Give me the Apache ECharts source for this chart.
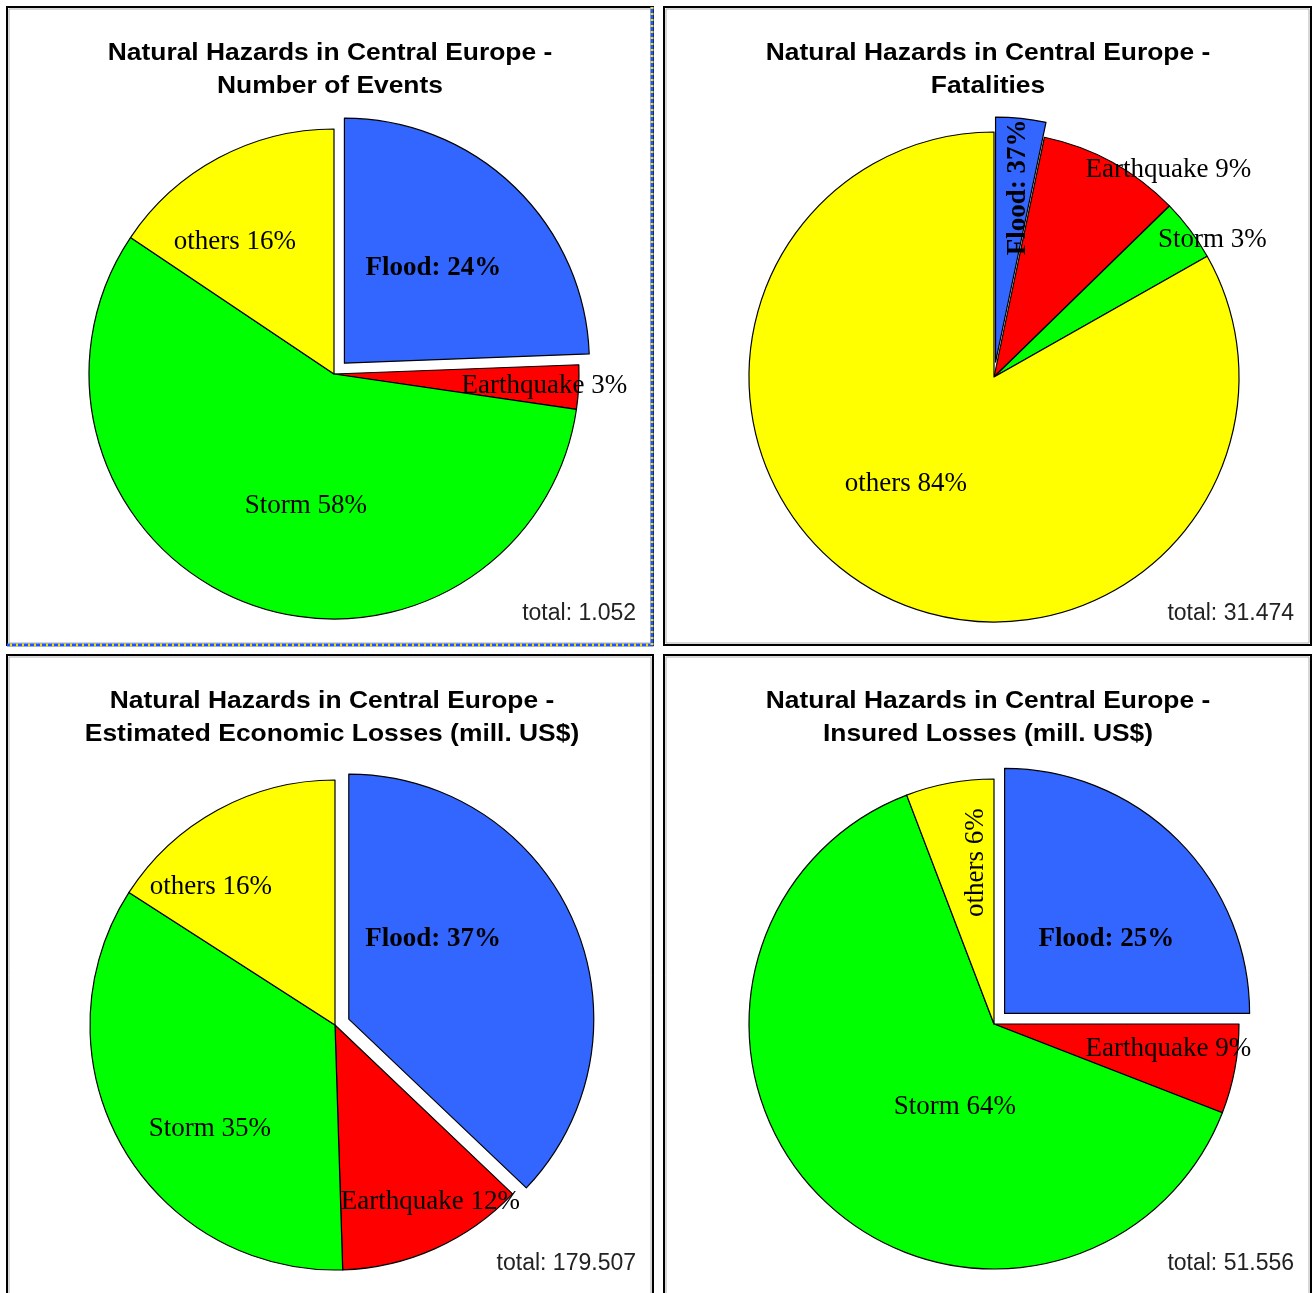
<!DOCTYPE html>
<html>
<head>
<meta charset="utf-8">
<script src="https://cdn.jsdelivr.net/npm/echarts@6/dist/echarts.min.js"></script>
<style>
  html, body { margin: 0; padding: 0; background: #fff; }
  #chart { width: 1312px; height: 1293px; }
</style>
</head>
<body>
<div id="chart"></div>
<script>
// categories, same order in every panel (clockwise from 12 o'clock)
const hazards = ['Flood', 'Earthquake', 'Storm', 'others']

// slice sizes as drawn
const eventsShare = [24.4, 2.9, 57.1, 15.6]
const fatalShare = [3.3, 9.4, 4.1, 83.2]
const econShare = [37.1, 12.4, 34.6, 15.9]
const insuredShare = [25, 5.9, 63.3, 5.8]

// percentages as printed on the labels
const eventsPct = [24, 3, 58, 16]
const fatalPct = [37, 9, 3, 84]
const econPct = [37, 12, 35, 16]
const insuredPct = [25, 9, 64, 6]

const panelTitles = [
  'Natural Hazards in Central Europe -\nNumber of Events',
  'Natural Hazards in Central Europe -\nFatalities',
  'Natural Hazards in Central Europe -\nEstimated Economic Losses (mill. US$)',
  'Natural Hazards in Central Europe -\nInsured Losses (mill. US$)',
]
const totals = ['total: 1.052', 'total: 31.474', 'total: 179.507', 'total: 51.556']

const colors = ['#3366ff', '#ff0000', '#00ff00', '#ffff00']

// layout of the four panels; shift = label nudge from the 'inside' spot
// (for rotated labels the nudge is in the label's own rotated frame)
const panels = [
  { share: eventsShare, pct: eventsPct, box: [7, 7, 646, 638], center: [334, 374], titleX: 330,
    shift: [[2, -5], [85, 5], [17, 15], [-40, -21]], rotate: [0, 0, 0, 0] },
  { share: fatalShare, pct: fatalPct, box: [664, 7, 647, 638], center: [994, 377], titleX: 988,
    shift: [[50, 9], [114, -97], [118, -62], [-25, -2]], rotate: [90, 0, 0, 0] },
  { share: econShare, pct: econPct, box: [7, 655, 646, 660], center: [335, 1025], titleX: 332,
    shift: [[-31, -31], [44, 62], [-16, 42], [-64, -28]], rotate: [0, 0, 0, 0] },
  { share: insuredShare, pct: insuredPct, box: [664, 655, 647, 660], center: [994, 1024], titleX: 988,
    shift: [[13, 14], [51, 2], [50, -6], [38, 5]], rotate: [0, 0, 0, 90] },
]

const chart = echarts.init(document.getElementById('chart'))

const graphics = []
panels.forEach((p, k) => {
  const [x, y, w, h] = p.box
  graphics.push({
    type: 'rect', silent: true, z: 0,
    shape: { x: x, y: y, width: w, height: h },
    style: { fill: '#fff', stroke: '#000', lineWidth: 2 },
  })
  graphics.push({
    type: 'rect', silent: true, z: 0,
    shape: { x: x + 2, y: y + 2, width: w - 4, height: h - 4 },
    style: { fill: null, stroke: '#b0b0b0', lineWidth: 1 },
  })
  graphics.push({
    type: 'text', silent: true, z: 10,
    x: p.titleX, y: y + 30,
    scaleX: 1.1,
    style: {
      text: panelTitles[k], align: 'center', verticalAlign: 'top',
      font: 'bold 24px "Liberation Sans", Arial, sans-serif', lineHeight: 33, fill: '#000',
    },
  })
  graphics.push({
    type: 'text', silent: true, z: 10,
    x: x + w - 17, y: k < 2 ? 614 : 1264,
    style: {
      text: totals[k], align: 'right', verticalAlign: 'middle',
      font: '23px "Liberation Sans", Arial, sans-serif', fill: '#222',
    },
  })
})
// focus frame on the first panel
graphics.push({
  type: 'polyline', silent: true, z: 5,
  shape: { points: [[652, 7], [652, 645], [7, 645]] },
  style: { stroke: '#2255ff', lineWidth: 3, fill: null },
})
graphics.push({
  type: 'polyline', silent: true, z: 6,
  shape: { points: [[652, 7], [652, 645], [7, 645]] },
  style: { stroke: '#f0e000', lineWidth: 3, fill: null, lineDash: [2, 4] },
})

const series = panels.map((p) => ({
  type: 'pie',
  center: p.center,
  radius: 245,
  startAngle: 90,
  clockwise: true,
  animation: false,
  avoidLabelOverlap: false,
  selectedMode: 'single',
  selectedOffset: 15,
  emphasis: { disabled: true },
  select: { itemStyle: { borderColor: '#000', borderWidth: 1.2 } },
  itemStyle: { borderColor: '#000', borderWidth: 1.2 },
  labelLine: { show: false },
  label: {
    show: true,
    position: 'inside',
    fontFamily: '"Liberation Serif", "Times New Roman", serif',
    fontSize: 27,
    color: '#000',
    textBorderWidth: 0,
  },
  labelLayout: (params) => ({
    dx: p.shift[params.dataIndex][0],
    dy: p.shift[params.dataIndex][1],
  }),
  data: hazards.map((name, i) => ({
    name: name,
    value: p.share[i],
    selected: i === 0,
    itemStyle: { color: colors[i] },
    select: { itemStyle: { color: colors[i] } },
    label: {
      formatter: i === 0 ? name + ': ' + p.pct[i] + '%' : name + ' ' + p.pct[i] + '%',
      fontWeight: i === 0 ? 'bold' : 'normal',
      rotate: p.rotate[i],
    },
  })),
}))

chart.setOption({
  backgroundColor: '#fff',
  animation: false,
  graphic: graphics,
  series: series,
})
</script>
</body>
</html>
